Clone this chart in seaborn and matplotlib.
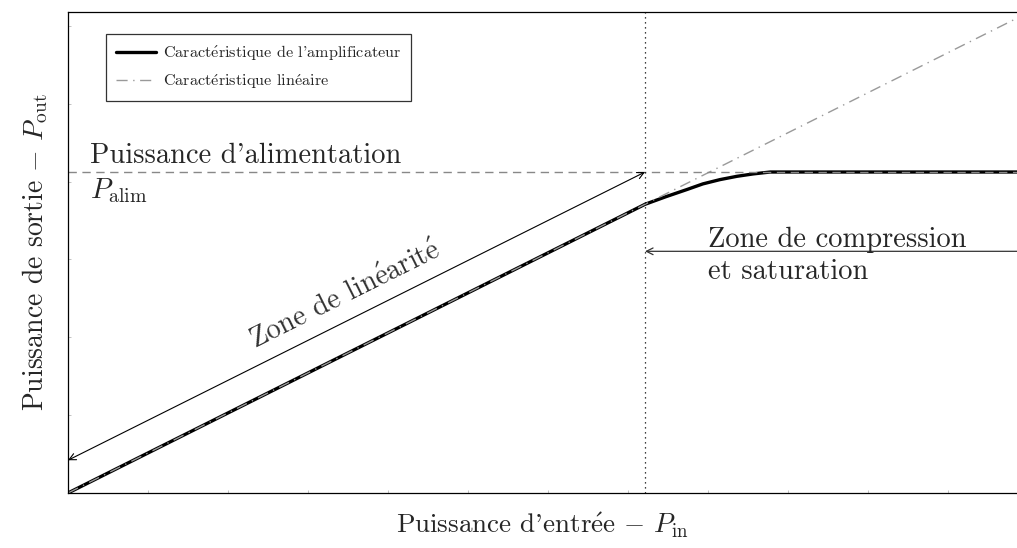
import numpy as np
import pandas as pd
import seaborn as sns
import matplotlib.pyplot as plt
from matplotlib.ticker import MultipleLocator

sns.set_style("white")
plt.rcParams['font.family'] = ['cmr10', 'DejaVu Serif']
plt.rcParams['mathtext.fontset'] = 'cm'
plt.rcParams['axes.unicode_minus'] = False

E = r'$\acute{\mathrm{e}}$'

# Amplifier characteristic (input power, output power)
p_in = [0, 1, 2, 3, 4, 5, 6.08, 6.30, 6.52, 6.69, 6.87, 7.05, 7.22, 7.40, 8, 9, 10]
p_out = [0, 1, 2, 3, 4, 5, 6.08, 6.24, 6.39, 6.51, 6.60, 6.67, 6.72, 6.76, 6.76, 6.76, 6.76]

# Linear characteristic
lin_in = [0, 10]
lin_out = [0, 10]

p_alim = 6.76
x_knee = 6.08

amp = pd.DataFrame({'Pin': p_in, 'Pout': p_out})
lin = pd.DataFrame({'Pin': lin_in, 'Pout': lin_out})

fig = plt.figure(figsize=(10.17, 5.48), dpi=100)
ax = fig.add_axes([68 / 1017, 1 - 493 / 548, 1 - 68 / 1017, (493 - 12) / 548])

sns.lineplot(data=amp, x='Pin', y='Pout', ax=ax, color='black', lw=2.4,
             label="Caract" + E + "ristique de l'amplificateur")
sns.lineplot(data=lin, x='Pin', y='Pout', ax=ax, color='#999999', lw=1.0,
             dashes=False, linestyle=(0, (8, 4, 1, 4)),
             label='Caract' + E + 'ristique lin' + E + 'aire')

ax.axhline(p_alim, color='#888888', lw=1.0, linestyle=(0, (6, 4)))
ax.axvline(x_knee, color='black', lw=0.9, linestyle=(0, (1, 3)))

ax.set_xlim(0, 10)
ax.set_ylim(0, 10.13)

# linear zone arrow
ax.annotate('', xy=(0, 0.69), xytext=(x_knee, p_alim),
            arrowprops=dict(arrowstyle='<->', color='black', lw=0.8,
                            shrinkA=0, shrinkB=0, mutation_scale=12))
ax.text(2.93, 4.15, 'Zone de lin' + E + 'arit' + E, rotation=26.5, rotation_mode='anchor',
        ha='center', va='center', fontsize=20.5, color='#333333')

# compression zone arrow
ax.annotate('', xy=(x_knee, 5.09), xytext=(10.05, 5.09),
            arrowprops=dict(arrowstyle='->', color='#333333', lw=0.9,
                            shrinkA=0, shrinkB=0, mutation_scale=12))
ax.text(6.74, 5.33, 'Zone de compression', ha='left', va='center', fontsize=20.5)
ax.text(6.74, 4.66, 'et saturation', ha='left', va='center', fontsize=20.5)

ax.text(0.23, 7.1, "Puissance d'alimentation", ha='left', va='center', fontsize=20.5)
ax.text(0.23, 6.37, r'$P_{\mathrm{alim}}$', ha='left', va='center', fontsize=20.5)

ax.set_xlabel("Puissance d'entr" + E + r"e $-$ $P_{\mathrm{in}}$", fontsize=19.5, labelpad=13)
ax.set_ylabel(r'Puissance de sortie $-$ $P_{\mathrm{out}}$', fontsize=20, labelpad=13)

ax.xaxis.set_major_locator(MultipleLocator(0.843))
ax.yaxis.set_major_locator(MultipleLocator(1.64))
ax.tick_params(direction='in', length=2, width=0.5, color='#aaaaaa',
               labelbottom=False, labelleft=False, bottom=True, left=True)

for side in ['top', 'bottom', 'left']:
    ax.spines[side].set_color('black')
    ax.spines[side].set_linewidth(0.9)
ax.spines['right'].set_visible(False)

leg = ax.legend(loc='upper left', bbox_to_anchor=(0.04, 0.955), fontsize=11.7,
                frameon=True, fancybox=False, edgecolor='black',
                handlelength=2.45, handletextpad=0.45, borderpad=0.6,
                labelspacing=0.6, borderaxespad=0)
leg.get_frame().set_linewidth(0.9)

fig.savefig('out.png', dpi=100)
